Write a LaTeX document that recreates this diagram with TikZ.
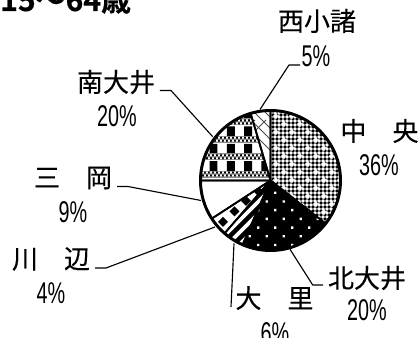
\documentclass[tikz,border=0pt]{standalone}
\usepackage{fontspec}
\setmainfont{Liberation Sans}
\newfontfamily\jpfont[FakeBold=0.25]{Noto Sans CJK JP}
\newfontfamily\jpbold[FakeBold=0.5]{Noto Sans CJK JP Bold}
\newcommand{\pct}[1]{\scalebox{.66}[1]{\fontsize{22.5pt}{24pt}\selectfont #1}}
\tikzset{
  namelabel/.style={inner sep=0pt,font=\fontsize{19.5pt}{22pt}\selectfont\jpfont,text=black},
  pctlabel/.style={inner sep=0pt,text=black},
  leader/.style={draw=black,line width=0.85pt,line join=round},
  wedgeline/.style={draw=black,line width=1.3pt,line join=round},
  rim/.style={draw=black,line width=2.2pt}
}
\newcommand{\wedgepath}[2]{(270.5,180.5) -- ++({#1-90}:70) arc[start angle={#1-90},end angle={#2-90},radius=70] -- cycle}
\begin{document}
\begin{tikzpicture}[x=0.75pt,y=-0.75pt]
\useasboundingbox (0,0) rectangle (419,342);
\fill[white] (0,0) rectangle (419,342);
\coordinate (pc) at (270.5,180.5);
% ---- 中央: fine checker with white crosses
\begin{scope}
\clip \wedgepath{0}{128};
\fill[black!45] (265,105) rectangle (345,240);
\fill[black] foreach \i in {0,...,20} { foreach \j in {0,...,34} {
   ({268+4*\i},{106+4*\j}) rectangle +(2,2) } };
\fill[white] foreach \i in {0,...,20} { foreach \j in {0,...,34} {
   ({270+4*\i},{108+4*\j}) rectangle +(2,2) } };
\fill[white] foreach \i in {0,...,5} { foreach \j in {0,...,16} {
   ({276+16*\i+8*mod(\j,2)-1.5},{116+8*\j-1.5}) rectangle +(3,3)
   ({276+16*\i+8*mod(\j,2)-3},{116+8*\j-0.7}) rectangle +(6,1.4)
   ({276+16*\i+8*mod(\j,2)-0.7},{116+8*\j-3}) rectangle +(1.4,6) } };
\end{scope}
% ---- 北大井: black with white dots
\fill[black] \wedgepath{128}{203.5};
\begin{scope}
\clip \wedgepath{128}{203.5};
\fill[white] foreach \i in {-1,...,6} { foreach \j in {0,...,8} {
   ({258.3+17*\i+8.5*mod(\j,2)-1.2},{245-8.7*\j-1.2}) rectangle +(2.4,2.4) } };
\end{scope}
% ---- 大里: diagonal stripes
\fill[black] \wedgepath{203.5}{221};
\begin{scope}
\clip \wedgepath{203.5}{221};
\foreach \s in {436,448,460,472,484} {
  \draw[white,line width=2.7pt] ({\s-270},270) -- ({\s-170},170);
}
\end{scope}
% ---- 川辺: diamonds
\begin{scope}
\clip \wedgepath{221}{237};
\fill[black] foreach \i in {-1,...,5} { foreach \j in {-1,0,1} {
   ({223+11.5*\i+11*\j},{222-10.5*\i+11*\j}) +(-5,0) -- +(0,-5) -- +(5,0) -- +(0,5) -- cycle } };
\end{scope}
% ---- 南大井: plaid
\begin{scope}
\clip \wedgepath{270}{343.5};
\foreach \r in {0,1,2,3} {
  \fill[black] foreach \c in {0,1,2,3} {
    ({209.5+17.3*\c},{109+17.4*\r}) rectangle +(8,11) };
}
\foreach \r in {0,1,2,3} {
  \fill[black!45] ({195},{118.5+17.4*\r}) rectangle (275,{125.5+17.4*\r});
  \fill[black] foreach \i in {0,...,20} { foreach \j in {0,1} {
     ({196+4*\i+2*\j},{119.5+3*\j+17.4*\r}) rectangle +(1.8,1.8) } };
  \fill[white] foreach \i in {0,...,20} { foreach \j in {0,1} {
     ({198+4*\i-2*\j},{119.5+3*\j+17.4*\r}) rectangle +(1.8,1.8) } };
}
\end{scope}
% ---- 西小諸: diagonal lattice
\begin{scope}
\clip \wedgepath{343.5}{360};
\foreach \s in {320,331,342,353,364,375,386} {
  \draw[black!70,line width=0.75pt] ({\s-120},120) -- ({\s-190},190);
}
\foreach \s in {120,131,142,153,164,175} {
  \draw[black!70,line width=0.75pt] ({\s+100},100) -- ({\s+200},200);
}
\end{scope}
% ---- outlines
\foreach \a/\b in {0/128,128/203.5,203.5/221,221/237,237/270,270/343.5,343.5/360} {
  \draw[wedgeline] \wedgepath{\a}{\b};
}
\draw[rim] (pc) circle[radius=70];
% ---- labels
\node[anchor=base west,inner sep=0pt,font=\fontsize{22.5pt}{24pt}\selectfont\jpbold] (title) at (0,11) {15～64歳};
\node[namelabel] (nishi) at (317,21) {西小諸};
\node[pctlabel] (niship) at (316,56) {\pct{5\%}};
\node[namelabel] (minami) at (116,82) {南大井};
\node[pctlabel] (minamip) at (117,116) {\pct{20\%}};
\node[namelabel] (mioka) at (73,178) {三　岡};
\node[pctlabel] (miokap) at (73,212) {\pct{9\%}};
\node[namelabel] (kawa) at (51,259) {川　辺};
\node[pctlabel] (kawap) at (51,293) {\pct{4\%}};
\node[namelabel] (ori) at (274.5,298) {大　里};
\begin{scope}
\clip (0,0) rectangle (419,338);
\node[pctlabel] (orip) at (275,333) {\pct{6\%}};
\end{scope}
\node[namelabel] (kita) at (367,278) {北大井};
\node[pctlabel] (kitap) at (367,310) {\pct{20\%}};
\node[namelabel] (naka) at (379.5,131) {中　央};
\node[pctlabel] (nakap) at (379,165) {\pct{36\%}};
% ---- connectors
\coordinate (e1a) at (300,65); \coordinate (e1b) at (289,65); \coordinate (e1c) at (260,109.5);
\draw[leader] (e1a) -- (e1b) -- (e1c);
\coordinate (e2a) at (160,90.5); \coordinate (e2b) at (171,90.5); \coordinate (e2c) at (212.7,136.7);
\draw[leader] (e2a) -- (e2b) -- (e2c);
\coordinate (e3a) at (117,186.5); \coordinate (e3b) at (128,186.5); \coordinate (e3c) at (201,200.5);
\draw[leader] (e3a) -- (e3b) -- (e3c);
\coordinate (e4a) at (95,268); \coordinate (e4b) at (106,268); \coordinate (e4c) at (215,227);
\draw[leader] (e4a) -- (e4b) -- (e4c);
\coordinate (e5a) at (231,307); \coordinate (e5b) at (234,243.5);
\draw[leader] (e5a) -- (e5b);
\coordinate (e6a) at (323,285); \coordinate (e6b) at (312.7,285); \coordinate (e6c) at (290,249.3);
\draw[leader] (e6a) -- (e6b) -- (e6c);
\end{tikzpicture}
\end{document}
